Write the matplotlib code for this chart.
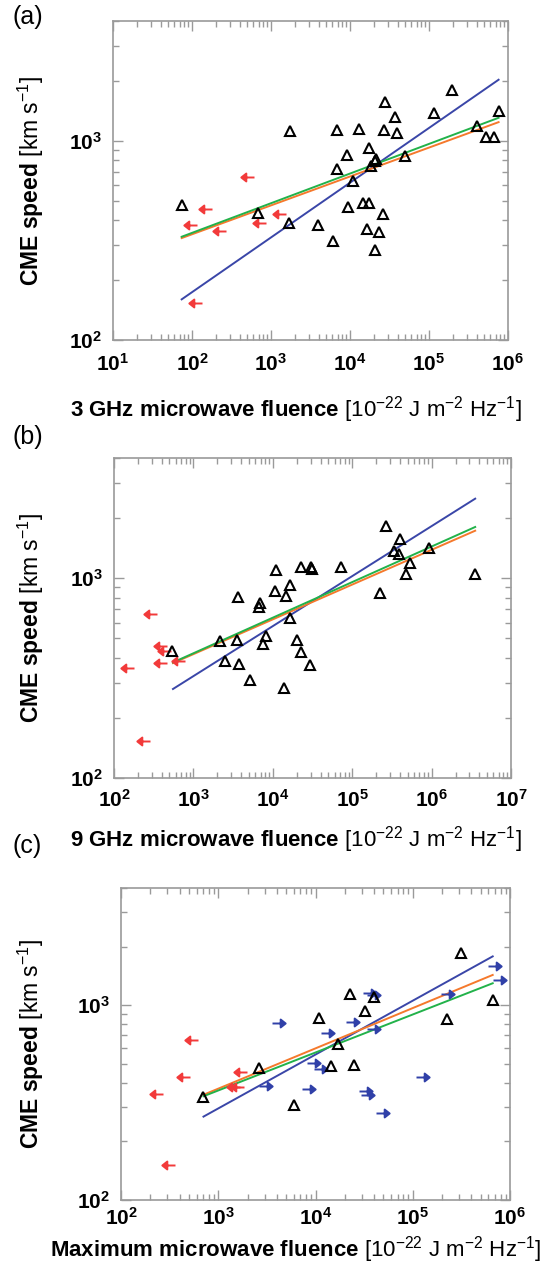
import numpy as np
import matplotlib
matplotlib.use('Agg')
import matplotlib.pyplot as plt
from matplotlib.path import Path
from matplotlib.ticker import LogLocator, FuncFormatter, NullFormatter

plt.rcParams['font.family'] = ['Liberation Sans', 'DejaVu Sans']
plt.rcParams['mathtext.fontset'] = 'custom'
plt.rcParams['mathtext.rm'] = 'Liberation Sans'
plt.rcParams['mathtext.bf'] = 'Liberation Sans:bold'
plt.rcParams['mathtext.it'] = 'Liberation Sans:italic'

# ---- panel (a): 3 GHz
a_det_x = [74, 1760, 6900, 9250, 6900, 685, 1680, 3920, 6030, 9500, 194500, 27500, 36800,
           116000, 776000, 13100, 26700, 39700, 408000, 526000, 659000, 17200, 21600, 20800,
           18200, 49300, 11000, 14800, 17200, 25900, 16400, 23300, 20900]
a_det_y = [479, 1117, 1137, 853, 720, 435, 385, 376, 313, 468, 1808, 1574, 1322,
           1381, 1416, 1148, 1130, 1099, 1191, 1049, 1049, 925, 815, 792,
           745, 835, 627, 488, 488, 427, 363, 347, 282]
a_up_x = [603, 179, 115, 268, 875, 1566, 134]
a_up_y = [659, 454, 376, 353, 385, 428, 154]
a_fit_x = [74, 7.6e5]
a_blue = [160, 2028]
a_orange = [325, 1242]
a_green = [330, 1306]

# ---- panel (b): 9 GHz
b_det_x = [543, 2190, 3610, 3550, 2510, 3790, 5100, 10900, 22900, 30600, 31400, 72600,
           16400, 10800, 14600, 6800, 6620, 16700, 8260, 7430, 20200, 22700, 29100, 13700,
           263600, 398000, 332000, 394000, 527000, 474000, 222000, 937000, 3540000]
b_det_y = [433, 483, 807, 490, 385, 373, 311, 1104, 1143, 1143, 1118, 1139,
           930, 861, 816, 756, 719, 633, 511, 468, 490, 428, 366, 283,
           1820, 1578, 1370, 1323, 1198, 1055, 845, 1418, 1051]
b_up_x = [353, 461, 518, 461, 783, 177, 283]
b_up_y = [666, 457, 432, 375, 386, 356, 154]
b_fit_x = [553, 3.54e6]
b_blue = [279, 2503]
b_orange = [376, 1730]
b_green = [379, 1806]

# ---- panel (c): maximum
c_det_x = [705, 2650, 5980, 10900, 22800, 17000, 14600, 313000, 40000, 32000, 664000,
           225000, 24800]
c_det_y = [338, 479, 309, 857, 1145, 630, 489, 1845, 1106, 933, 1062, 847, 491]
c_up_x = [612, 514, 273, 1980, 1690, 1850, 356]
c_up_y = [662, 427, 351, 456, 379, 382, 151]
c_low_x = [3570, 11300, 8200, 9610, 7300, 2620, 590000, 664000, 31000, 33600, 194500,
           20400, 34100, 107000, 28000, 29300, 41600]
c_low_y = [807, 722, 508, 468, 373, 385, 1596, 1346, 1153, 1130, 1149,
           820, 755, 428, 361, 348, 281]
c_fit_x = [705, 6.64e5]
c_blue = [268, 1782]
c_orange = [347, 1431]
c_green = [341, 1297]

ylab = r'$\mathbf{CME\ speed}\ \mathrm{[km\ s^{-1}]}$'
xlabs = [r'$\mathbf{3\ GHz\ microwave\ fluence}\ \mathrm{[10^{-22}\ J\ m^{-2}\ Hz^{-1}]}$',
         r'$\mathbf{9\ GHz\ microwave\ fluence}\ \mathrm{[10^{-22}\ J\ m^{-2}\ Hz^{-1}]}$',
         r'$\mathbf{Maximum\ microwave\ fluence}\ \mathrm{[10^{-22}\ J\ m^{-2}\ Hz^{-1}]}$']

RED = '#f23a3a'
BLUE_ARR = '#3040a8'
BLUE = '#3a46a8'
ORANGE = '#f5792c'
GREEN = '#22b24a'

# arrow markers, origin at the tail
left_arrow = Path([(0, 0), (-0.72, 0), (-1, 0), (-0.62, 0.3), (-0.62, -0.3), (-1, 0)],
                  [Path.MOVETO, Path.LINETO, Path.MOVETO, Path.LINETO, Path.LINETO, Path.CLOSEPOLY])
right_arrow = Path([(0, 0), (0.72, 0), (1, 0), (0.62, 0.3), (0.62, -0.3), (1, 0)],
                   [Path.MOVETO, Path.LINETO, Path.MOVETO, Path.LINETO, Path.LINETO, Path.CLOSEPOLY])

W, H = 551, 1265
fig = plt.figure(figsize=(W / 100, H / 100), dpi=100)

boxes = [(113, 508, 21, 340), (114, 511, 458, 778), (121, 510, 888, 1200)]
xlims = [(10, 1e6), (100, 1e7), (100, 1e6)]
tickpad = [9, 8, 5]
xlab_top = [394, 824, 1234]
panel_lab_y = [17, 437, 846]
letters = ['(a)', '(b)', '(c)']

data = [
    (a_det_x, a_det_y, a_up_x, a_up_y, None, None, a_fit_x, a_blue, a_orange, a_green),
    (b_det_x, b_det_y, b_up_x, b_up_y, None, None, b_fit_x, b_blue, b_orange, b_green),
    (c_det_x, c_det_y, c_up_x, c_up_y, c_low_x, c_low_y, c_fit_x, c_blue, c_orange, c_green),
]

fmt = FuncFormatter(lambda v, p: r'$\mathbf{10^{%d}}$' % int(round(np.log10(v))))

for i in range(3):
    l, r, t, b = boxes[i]
    ax = fig.add_axes([l / W, 1 - b / H, (r - l) / W, (b - t) / H])
    dx, dy, ux, uy, lx, ly, fx, fb, fo, fg = data[i]
    ax.set_xscale('log')
    ax.set_yscale('log')
    ax.plot(fx, fb, color=BLUE, lw=1.4, zorder=2)
    ax.plot(fx, fo, color=ORANGE, lw=1.4, zorder=2)
    ax.plot(fx, fg, color=GREEN, lw=1.4, zorder=2)
    ax.plot(ux, uy, ls='none', marker=left_arrow, ms=19, color=RED, mfc=RED, mec=RED, mew=1.4, zorder=3)
    if lx is not None:
        ax.plot(lx, ly, ls='none', marker=right_arrow, ms=19, color=BLUE_ARR, mfc=BLUE_ARR,
                mec=BLUE_ARR, mew=1.4, zorder=3)
    ax.plot(dx, dy, ls='none', marker='^', ms=7, mfc='none', mec='black', mew=1.5, zorder=4)
    ax.set_xlim(*xlims[i])
    ax.set_ylim(100, 4000)
    for a_ in (ax.xaxis, ax.yaxis):
        a_.set_major_locator(LogLocator(base=10, numticks=20))
        a_.set_minor_locator(LogLocator(base=10, subs=np.arange(2, 10), numticks=20))
        a_.set_major_formatter(fmt)
        a_.set_minor_formatter(NullFormatter())
    ax.tick_params(which='both', direction='in', top=True, right=True, color='#9a9a9a', width=1,
                   labelsize=15)
    ax.tick_params(which='major', length=7)
    ax.tick_params(which='minor', length=4)
    ax.tick_params(axis='x', pad=tickpad[i])
    ax.tick_params(axis='y', pad=8)
    for s in ax.spines.values():
        s.set_color('#9a9a9a')
        s.set_linewidth(1.2)
    ax.set_ylabel(ylab, fontsize=16.5)
    ax.yaxis.set_label_coords((16 - l) / (r - l), 0.5)
    ax.yaxis.label.set_va('top')
    ax.set_xlabel(xlabs[i], fontsize=16)
    ax.xaxis.set_label_coords((296 - l) / (r - l), (b - xlab_top[i]) / (b - t))
    fig.text(12 / W, 1 - panel_lab_y[i] / H, letters[i], fontsize=18, ha='left', va='center')

plt.savefig('out.png', dpi=100)
